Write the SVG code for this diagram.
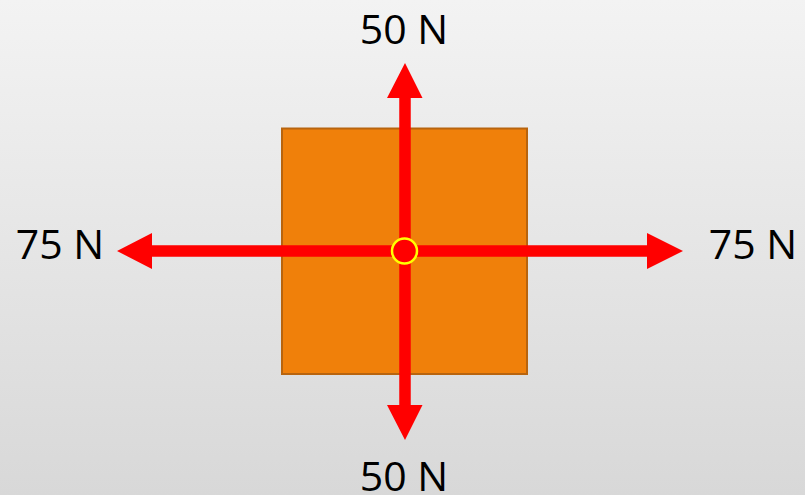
<svg xmlns="http://www.w3.org/2000/svg" width="805" height="495" viewBox="0 0 805 495">
<defs>
<linearGradient id="bg" x1="0" y1="0" x2="0" y2="1">
<stop offset="0" stop-color="#f3f3f3"/>
<stop offset="1" stop-color="#d8d8d8"/>
</linearGradient>
</defs>
<style>
.lbl{font-family:"Open Sans","Liberation Sans",sans-serif;font-size:41px;fill:#000;text-anchor:middle}
.force{fill:#ff0000}
</style>
<rect width="805" height="495" fill="url(#bg)"/>
<g id="box">
<rect x="282" y="128.5" width="245" height="245.5" fill="#f0800a" stroke="#b8640e" stroke-width="2"/>
</g>
<g id="connectors">
<path class="force" d="M399.5 405 V98 H387 L405 63 L422.5 98 H410.5 V405 Z"/>
<path class="force" d="M399.5 98 V405 H387 L405 440 L422.5 405 H410.5 V98 Z"/>
<path class="force" d="M647 245.5 H152 V233 L117 251 L152 269 V256.5 H647 Z"/>
<path class="force" d="M152 245.5 H647 V233 L683 251 L647 269 V256.5 H152 Z"/>
</g>
<g id="center">
<circle cx="404.5" cy="251" r="12.5" fill="#ff0000" stroke="#ffff00" stroke-width="2.5"/>
</g>
<g id="label-top"><text class="lbl" x="404" y="44">50 N</text></g>
<g id="label-bottom"><text class="lbl" x="404" y="491">50 N</text></g>
<g id="label-left"><text class="lbl" x="60" y="259">75 N</text></g>
<g id="label-right"><text class="lbl" x="753" y="259">75 N</text></g>
</svg>
